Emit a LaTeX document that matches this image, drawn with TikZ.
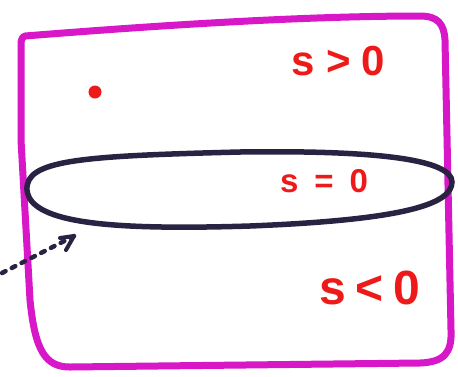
\documentclass[tikz,border=0pt]{standalone}
\usepackage{fontspec}
\setmainfont{Liberation Sans}
\definecolor{frame}{HTML}{D818C8}
\definecolor{ink}{HTML}{2A2242}
\definecolor{redink}{HTML}{EE1A1A}
\tikzset{
  lab/.style={text=redink, inner sep=0pt},
}
\begin{document}
\begin{tikzpicture}[x=1pt,y=-1pt]
\useasboundingbox (0,0) rectangle (458,376);
\fill[white] (0,0) rectangle (458,376);
% frame
\draw[frame, line width=7pt, line cap=round, line join=round]
  (25,36) .. controls (150,26) and (300,16) .. (420,16)
  .. controls (438,16) and (444,24) .. (445,40)
  -- (451,330) .. controls (452,352) and (445,362) .. (420,363)
  -- (70,367) .. controls (45,367) and (35,350) .. (30,300)
  -- (21,140) -- (21,45) .. controls (21,40) and (22,37) .. (25,36);
% ellipse
\draw[ink, line width=5.5pt]
  (27,190) .. controls (25,160) and (80,156) .. (240,152)
  .. controls (380,150) and (452,160) .. (452,182)
  .. controls (452,205) and (400,220) .. (250,226)
  .. controls (120,230) and (30,225) .. (27,190) -- cycle;
% red dot
\fill[redink] (95,92) circle (6.5);
% labels
\node[lab, font=\fontsize{42}{42}\selectfont\bfseries] (gt) at (338,61) {s\hspace{12pt}>\hspace{10pt}0};
\node[lab, font=\fontsize{33}{33}\selectfont\bfseries] (eq) at (324,181) {s\hspace{16pt}=\hspace{16pt}0};
\node[lab, font=\fontsize{48}{48}\selectfont\bfseries] (lt) at (370,288) {s\hspace{9pt}<\hspace{10pt}0};
% dotted arrow
\coordinate (from) at (2,273);
\coordinate (to) at (74,236);
\draw[ink, line width=4.5pt, dash pattern=on 4pt off 7pt, line cap=round] (from) -- (to);
\draw[ink, line width=4pt, line cap=round, line join=round] (60,238) -- (74,236) -- (66,250);
\end{tikzpicture}
\end{document}
